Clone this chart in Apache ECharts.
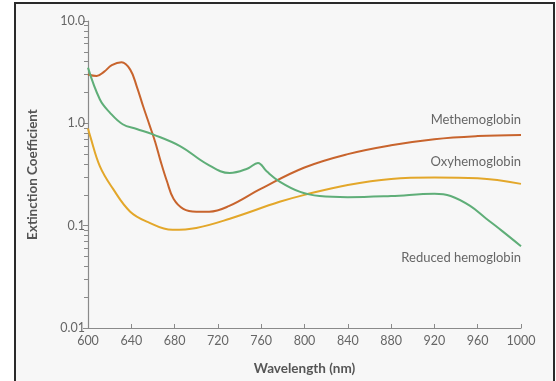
<!DOCTYPE html>
<html><head><meta charset="utf-8">
<script src="https://cdn.jsdelivr.net/npm/echarts@6/dist/echarts.min.js"></script>
<style>
body{margin:0;background:#fff;}
#frame{position:absolute;left:14px;top:2px;width:537px;height:400px;border:2px solid #2a2a2a;background:#f7f7f7;}
#c{position:absolute;left:0;top:0;width:556px;height:381px;}
</style></head><body>
<div id="frame"></div>
<div id="c"></div>
<script>
const methWl  = [600,608,615,622,631,639,645,651,657,662,667,673,679,688,700,712,730,760,800,840,880,920,960,1000];
const methVal = [3.0,2.9,3.2,3.7,3.95,3.35,2.3,1.46,0.95,0.66,0.43,0.27,0.183,0.146,0.137,0.137,0.155,0.23,0.37,0.5,0.61,0.7,0.75,0.77];
const oxyWl   = [600,602,611,623,639,655,678,700,731,777,800,840,880,920,960,1000];
const oxyVal  = [0.89,0.75,0.38,0.23,0.137,0.109,0.091,0.095,0.117,0.171,0.2,0.25,0.286,0.295,0.29,0.256];
const redWl   = [600,611,620,632,645,660,685,710,731,747,757,765,777,796,814,840,880,920,935,953,968,983,1000];
const redVal  = [3.5,1.71,1.28,0.98,0.88,0.78,0.6,0.40,0.327,0.36,0.41,0.34,0.27,0.214,0.195,0.19,0.195,0.205,0.195,0.156,0.117,0.088,0.063];
const yTickLabels = {'10':'10.0','1':'1.0','0.1':'0.1','0.01':'0.01'};
const yMinorTicks = [0.02,0.03,0.04,0.05,0.06,0.07,0.08,0.09,0.2,0.3,0.4,0.5,0.6,0.7,0.8,0.9,2,3,4,5,6,7,8,9];
const seriesNames = ['Methemoglobin','Oxyhemoglobin','Reduced hemoglobin'];

const pairs = (a,b)=>a.map((x,i)=>[x,b[i]]);
const chart = echarts.init(document.getElementById('c'));
const font = 'Lato, "Open Sans", sans-serif';
chart.setOption({
  backgroundColor:'transparent',
  animation:false,
  grid:{left:88,right:35,top:21,bottom:52},
  xAxis:{type:'value',min:600,max:1000,interval:40,
    axisLine:{lineStyle:{color:'#8a8a8a',width:1.2}},
    axisTick:{inside:true,length:4,lineStyle:{color:'#8a8a8a'}},
    splitLine:{show:false},
    axisLabel:{color:'#666',fontSize:12.5,fontFamily:font,margin:6,formatter:v=>String(v)},
    name:'Wavelength (nm)',nameLocation:'middle',nameGap:34,
    nameTextStyle:{color:'#555',fontSize:13.5,fontWeight:'bold',fontFamily:font}},
  yAxis:[{type:'log',logBase:10,min:0.01,max:10,
    axisLine:{show:true,lineStyle:{color:'#8a8a8a',width:1.2}},
    axisTick:{show:true,length:5,lineStyle:{color:'#8a8a8a'}},
    splitLine:{show:false},
    axisLabel:{color:'#666',fontSize:12.5,fontFamily:font,margin:3,formatter:v=>yTickLabels[String(+v.toPrecision(3))]||''},
    name:'Extinction Coefficient',nameLocation:'middle',nameGap:48,
    nameTextStyle:{color:'#555',fontSize:13.5,fontWeight:'bold',fontFamily:font}},
   {type:'log',logBase:10,min:0.01,max:10,position:'left',
    axisLine:{show:false},
    axisTick:{show:true,length:4,customValues:yMinorTicks,lineStyle:{color:'#8a8a8a'}},
    axisLabel:{show:false},splitLine:{show:false}}],
  series:[
    {name:seriesNames[0],type:'line',smooth:0.4,symbol:'none',data:pairs(methWl,methVal),lineStyle:{color:'#c8642d',width:2}},
    {name:seriesNames[1],type:'line',smooth:0.4,symbol:'none',data:pairs(oxyWl,oxyVal),lineStyle:{color:'#e3a72a',width:2}},
    {name:seriesNames[2],type:'line',smooth:0.4,symbol:'none',data:pairs(redWl,redVal),lineStyle:{color:'#5fae78',width:2}}
  ],
  graphic:[
    {type:'text',right:35,top:113,style:{text:seriesNames[0],fill:'#666',font:'13px '+font}},
    {type:'text',right:35,top:155,style:{text:seriesNames[1],fill:'#666',font:'13px '+font}},
    {type:'text',right:35,top:251,style:{text:seriesNames[2],fill:'#666',font:'13px '+font}}
  ]
});
</script></body></html>
